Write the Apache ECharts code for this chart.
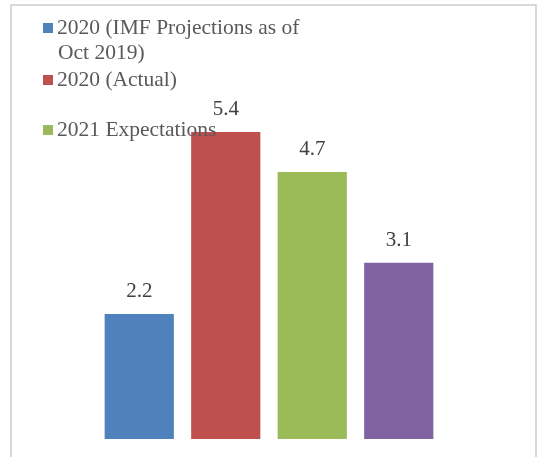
<!DOCTYPE html>
<html>
<head>
<meta charset="utf-8">
<script src="https://cdn.jsdelivr.net/npm/echarts@6/dist/echarts.min.js"></script>
<style>html,body{margin:0;padding:0;background:#fff}#c{width:540px;height:457px}</style>
</head>
<body>
<div id="c"></div>
<script>
var categories = ['a', 'b', 'c', 'd'];
var seriesNames = ['2020 (IMF Projections as of', '2020 (Actual)', '2021 Expectations', ''];
var values = [2.2, 5.4, 4.7, 3.1];
var colors = ['#4f81bd', '#c0504d', '#9bbb59', '#8064a2'];
var legendExtraLine = 'Oct 2019)';

var chart = echarts.init(document.getElementById('c'), null, {renderer: 'canvas'});
var series = values.map(function (v, i) {
  var d = categories.map(function (c, j) { return j === i ? v : '-'; });
  return {
    type: 'bar', name: seriesNames[i] || 'other', stack: 's', data: d,
    barWidth: '80%',
    itemStyle: {color: colors[i]},
    label: {show: true, position: 'top', distance: 12, color: '#404040',
      fontFamily: 'Liberation Serif', fontSize: 21},
    silent: true
  };
});
var legendTops = [16, 68, 118];
var legends = [0, 1, 2].map(function (i) {
  return {
    data: [seriesNames[i]], left: 43, top: legendTops[i], padding: 0,
    itemWidth: 10, itemHeight: 10, itemGap: 5, icon: 'rect',
    selectedMode: false,
    textStyle: {fontFamily: 'Liberation Serif', fontSize: 21.5, color: '#595959', lineHeight: 24, padding: [0, 0, 0, -1]}
  };
});
chart.setOption({
  animation: false,
  backgroundColor: '#fff',
  graphic: [
    {type: 'rect', shape: {x: 11, y: 5, width: 525, height: 470}, style: {fill: 'none', stroke: '#d9d9d9', lineWidth: 2}, z: -10},
    {type: 'text', left: 58, top: 42, style: {text: legendExtraLine, font: '21.5px "Liberation Serif"', fill: '#595959'}}
  ],
  legend: legends,
  grid: {left: 96, right: 98, top: 98, bottom: 18},
  xAxis: {type: 'category', data: categories, axisLine: {show: false}, axisTick: {show: false}, axisLabel: {show: false}},
  yAxis: {type: 'value', min: 0, max: 6, interval: 1, show: false, splitLine: {show: false}},
  series: series
});
</script>
</body>
</html>
